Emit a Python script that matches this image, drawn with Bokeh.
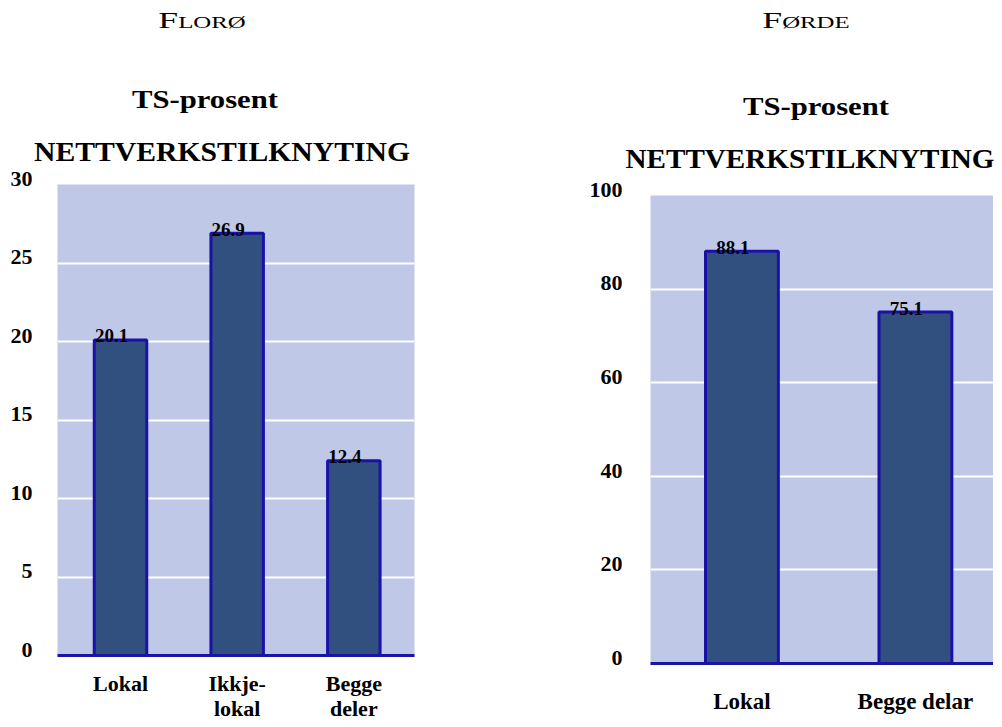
from bokeh.plotting import figure
from bokeh.models import Range1d, FixedTicker, Div, ColumnDataSource, LinearAxis
from bokeh.layouts import column, row
from bokeh.core.properties import value
from bokeh.embed import file_html
from bokeh.resources import INLINE

# ---- data ----
floro_categories = ["Lokal", "Ikkje-\nlokal", "Begge\ndeler"]
floro_values = [20.1, 26.9, 12.4]
floro_ticks = [0, 5, 10, 15, 20, 25, 30]

forde_categories = ["Lokal", "Begge delar"]
forde_values = [88.1, 75.1]
forde_ticks = [0, 20, 40, 60, 80, 100]

towns = ["Florø", "Førde"]
heading_1 = "TS-prosent"
heading_2 = "NETTVERKSTILKNYTING"

# ---- style ----
FONT = "Liberation Serif"
BG = "#BFC8E6"
BAR = "#32507F"
EDGE = "#1A12A8"
AXIS = "#1A14A6"


def style_axis_labels(ax, size, standoff):
    ax.major_tick_line_color = None
    ax.minor_tick_line_color = None
    ax.major_tick_out = 0
    ax.major_tick_in = 0
    ax.minor_tick_out = 0
    ax.minor_tick_in = 0
    ax.major_label_standoff = standoff
    ax.major_label_text_font = FONT
    ax.major_label_text_font_style = "bold"
    ax.major_label_text_font_size = size
    ax.major_label_text_color = "black"


def make_chart(cats, vals, ticks, frame_w, frame_h, borders, xr, bar_w,
               xlabel_size, xlabel_standoffs, ylabel_standoff):
    idx = list(range(len(cats)))
    p = figure(frame_width=frame_w, frame_height=frame_h,
               output_backend="svg", toolbar_location=None,
               x_range=Range1d(*xr), y_range=Range1d(ticks[0], ticks[-1]),
               min_border_left=borders[0], min_border_right=borders[1],
               min_border_top=borders[2], min_border_bottom=borders[3])
    p.background_fill_color = BG
    p.border_fill_color = "white"
    p.outline_line_color = None

    src = ColumnDataSource(dict(x=idx, top=vals,
                                lab=[f"{v:.1f}" for v in vals]))
    p.vbar(x="x", top="top", bottom=0, width=bar_w, source=src,
           fill_color=BAR, line_color=EDGE, line_width=3)
    p.text(x="x", y="top", text="lab", source=src, x_offset=-9, y_offset=-4,
           text_align="center", text_baseline="alphabetic",
           text_font=value(FONT), text_font_style="bold",
           text_font_size="19px", text_color="black")

    p.xgrid.visible = False
    p.ygrid.ticker = FixedTicker(ticks=ticks[1:-1])
    p.ygrid.grid_line_color = "white"
    p.ygrid.grid_line_width = 2

    ya = p.yaxis[0]
    ya.ticker = FixedTicker(ticks=ticks, minor_ticks=[])
    ya.axis_line_color = None
    style_axis_labels(ya, "22px", ylabel_standoff)
    # labels sit a little above their gridline, as in the original
    ya.major_label_overrides = {t: f"{t}\n" for t in ticks}
    ya.major_label_text_line_height = 0.5

    first = [c.split("\n")[0] for c in cats]
    second = [c.split("\n")[1] if "\n" in c else "" for c in cats]

    xa = p.xaxis[0]
    xa.ticker = FixedTicker(ticks=idx, minor_ticks=[])
    xa.major_label_overrides = {i: t for i, t in zip(idx, first)}
    xa.axis_line_color = AXIS
    xa.axis_line_width = 3
    style_axis_labels(xa, xlabel_size, xlabel_standoffs[0])

    if any(second):
        xb = LinearAxis(ticker=FixedTicker(ticks=idx, minor_ticks=[]),
                        major_label_overrides={i: t for i, t in zip(idx, second)},
                        axis_line_color=None)
        style_axis_labels(xb, xlabel_size, xlabel_standoffs[1])
        p.add_layout(xb, "below")
    return p


def text_block(text, cx, base, size, scale, bold=True, smallcaps=False):
    lh = round(size * 0.8, 1)
    b = (lh - 1.107 * size) / 2 + 0.891 * size
    top = base - b
    st = (f"position:absolute;left:{cx - 300:.1f}px;width:600px;top:{top:.1f}px;"
          f"text-align:center;white-space:nowrap;font-size:{size}px;"
          f"line-height:{lh}px;transform:scaleX({scale});")
    if bold:
        st += "font-weight:bold;"
    if smallcaps:
        st += "font-variant:small-caps;"
    return f"<div style=\"{st}\">{text}</div>"


def header_div(width, height, blocks):
    inner = "".join(blocks)
    html = (f"<div style=\"position:relative;width:{width}px;height:{height}px;"
            f"font-family:'Liberation Serif',serif;color:#000;\">{inner}</div>")
    return Div(text=html, width=width, height=height, margin=0)


# left column
div_l = header_div(562, 164, [
    text_block(towns[0], 202, 29, 23, 1.55, bold=False, smallcaps=True),
    text_block(heading_1, 205, 109, 26, 1.18),
    text_block(heading_2, 222, 161.5, 28, 1.06),
])
p1 = make_chart(floro_categories, floro_values, floro_ticks,
                frame_w=357, frame_h=471, borders=(57, 148, 20, 63),
                xr=(-0.54, 2.52), bar_w=0.45,
                xlabel_size="22px", xlabel_standoffs=(15, -3),
                ylabel_standoff=25)

# right column
div_r = header_div(431, 171, [
    text_block(towns[1], 244, 29, 23, 1.55, bold=False, smallcaps=True),
    text_block(heading_1, 254, 116, 26, 1.18),
    text_block(heading_2, 248, 169, 28, 1.04),
])
p2 = make_chart(forde_categories, forde_values, forde_ticks,
                frame_w=343, frame_h=468, borders=(88, 0, 24, 55),
                xr=(-0.527, 1.45), bar_w=0.42,
                xlabel_size="23px", xlabel_standoffs=(25, 0),
                ylabel_standoff=28)

layout = row(column(div_l, p1, spacing=0), column(div_r, p2, spacing=0),
             spacing=0)

open("out.html", "w").write(file_html(layout, INLINE))
